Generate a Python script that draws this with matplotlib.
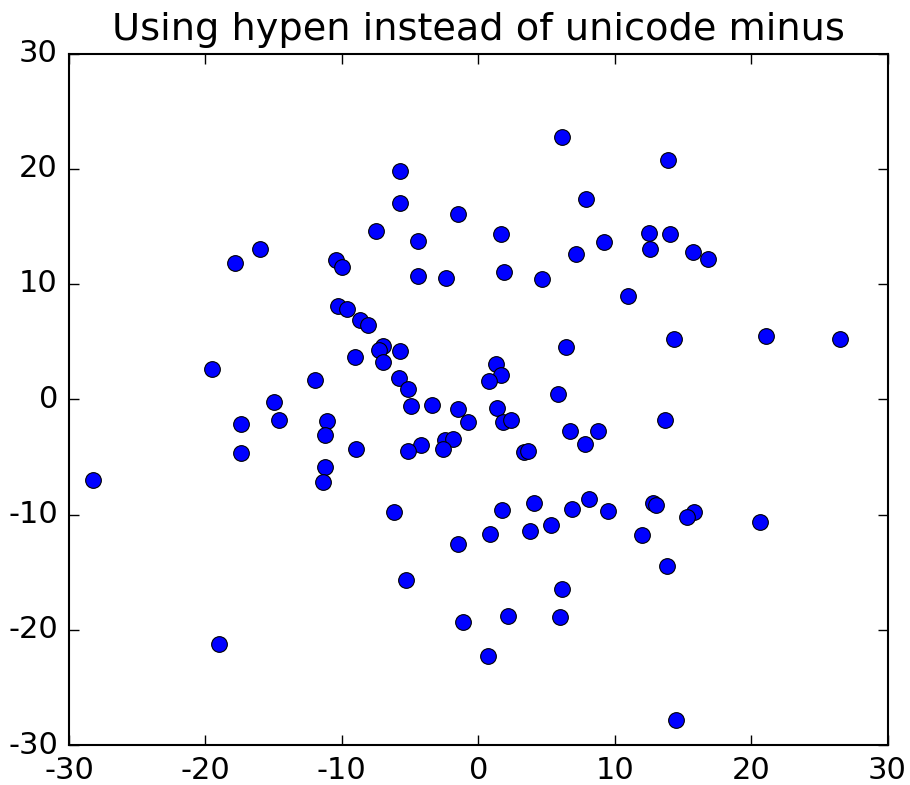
import matplotlib
matplotlib.use("Agg")
import matplotlib.pyplot as plt

plt.style.use('classic')
plt.rcParams['axes.unicode_minus'] = False

x_vals = [-5.77, -5.72, -1.49, -7.5, -4.4, -16.0, -17.8, -10.4, -10.0, -4.4,
          -2.37, -10.3, -9.6, -8.7, -8.1, -7.0, -7.3, -5.77, -9.0, -6.96,
          -19.5, -11.95, -5.8, -5.18, -14.98, -4.96, -3.37, -1.52, -0.78, -17.4,
          -14.6, -11.1, -11.2, -2.42, -1.88, -2.57, -4.23, -5.15, -8.97, -17.4,
          -11.27, -11.4, -28.25, -6.18, -1.49, -5.26, -1.12, -19.0,
          6.16, 13.93, 7.87, 1.69, 12.54, 14.03, 9.21, 7.18, 12.56, 15.76,
          16.84, 1.9, 4.69, 21.1, 26.5, 10.97, 14.37, 6.43, 1.27, 1.69,
          0.76, 5.84, 1.39, 1.83, 2.42, 13.71, 6.72, 8.8, 7.8, 3.32,
          3.64, 8.09, 4.06, 12.83, 13.03, 1.76, 6.87, 9.48, 15.84, 15.32,
          20.62, 5.3, 0.83, 3.81, 12.02, 13.83, 6.11, 2.15, 6.01, 0.71, 14.52]
y_vals = [19.8, 17.0, 16.1, 14.6, 13.7, 13.0, 11.8, 12.1, 11.5, 10.7,
          10.5, 8.1, 7.85, 6.9, 6.4, 4.6, 4.3, 4.2, 3.7, 3.2,
          2.65, 1.64, 1.87, 0.91, -0.24, -0.56, -0.53, -0.85, -2.0, -2.18,
          -1.83, -1.86, -3.13, -3.54, -3.48, -4.32, -3.97, -4.52, -4.35, -4.64,
          -5.88, -7.18, -6.98, -9.81, -12.56, -15.65, -19.32, -21.23,
          22.74, 20.8, 17.36, 14.3, 14.39, 14.3, 13.66, 12.62, 13.0, 12.8,
          12.13, 11.06, 10.42, 5.48, 5.22, 9.0, 5.22, 4.53, 3.02, 2.13,
          1.58, 0.45, -0.76, -1.98, -1.83, -1.78, -2.76, -2.73, -3.89, -4.58,
          -4.52, -8.66, -8.97, -8.98, -9.18, -9.58, -9.52, -9.7, -9.78, -10.19,
          -10.62, -10.91, -11.66, -11.43, -11.81, -14.44, -16.46, -18.83, -18.92, -22.3, -27.82]

title = "Using hypen instead of unicode minus"
x_ticks = [-30, -20, -10, 0, 10, 20, 30]
y_ticks = [-30, -20, -10, 0, 10, 20, 30]

W, H = 910, 785
fig = plt.figure(figsize=(W / 100, H / 100), dpi=100, facecolor='white')
ax = fig.add_axes([69 / W, 1 - 745 / H, 818.5 / W, 691.5 / H])
ax.plot(x_vals, y_vals, 'o', color='blue', markersize=11.3,
        markeredgecolor='black', markeredgewidth=0.8)
ax.set_xlim(-30, 30)
ax.set_ylim(-30, 30)
ax.set_xticks(x_ticks)
ax.set_yticks(y_ticks)
ax.tick_params(axis='both', which='major', direction='in', length=7, width=1,
               labelsize=22, top=True, right=True, pad=8)
for s in ax.spines.values():
    s.set_linewidth(1.5)
ax.set_title(title, fontsize=27.5, pad=10)
fig.savefig('out.png', dpi=100, facecolor='white')
